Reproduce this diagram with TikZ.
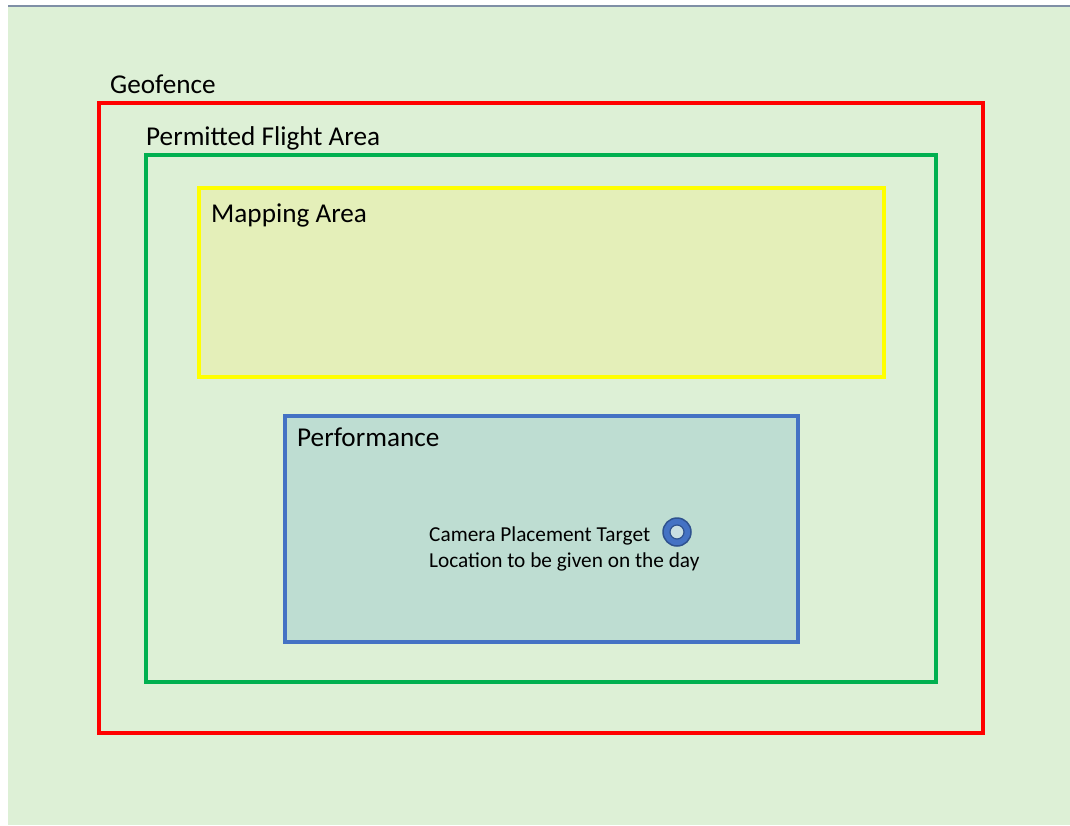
\documentclass[tikz,border=0pt]{standalone}
\usepackage{fontspec}
\setmainfont{Carlito}
\usepackage{tikz}
\usetikzlibrary{positioning}
\definecolor{bggreen}{HTML}{DDF0D6}
\definecolor{fencered}{HTML}{FF0000}
\definecolor{flightgreen}{HTML}{00B050}
\definecolor{mapyellow}{HTML}{FFFF00}
\definecolor{mapfill}{HTML}{E4EFB9}
\definecolor{perfblue}{HTML}{4472C4}
\definecolor{perffill}{HTML}{BEDDD2}
\definecolor{ringdark}{HTML}{2F528F}
\definecolor{ringhole}{HTML}{C9DFE2}
\definecolor{topline}{HTML}{7F8FA6}

\tikzset{
    zonelabel/.style={anchor=base west, inner sep=0pt, font=\fontsize{27.2}{31}\selectfont},
    notelabel/.style={anchor=base west, inner sep=0pt, font=\fontsize{21.3}{26}\selectfont}
}

\begin{document}
\begin{tikzpicture}[x=1pt, y=-1pt]
    \useasboundingbox (0,0) rectangle (1070,825);
    \fill[bggreen] (8,6) rectangle (1070,825);
    \draw[topline, line width=1.2pt] (8,6) -- (1070,6);

    \draw[fencered, line width=4.5pt] (99,103) rectangle (983,733);
    \draw[flightgreen, line width=4pt] (146,155) rectangle (936,682);
    \draw[mapyellow, fill=mapfill, line width=4pt] (199,188) rectangle (884,377);
    \draw[perfblue, fill=perffill, line width=3.5pt] (285,416) rectangle (798,642);

    \node[zonelabel] (geofence) at (110,93) {Geofence};
    \node[zonelabel] (flight) at (146,145) {Permitted Flight Area};
    \node[zonelabel] (mapping) at (211,222) {Mapping Area};
    \node[zonelabel] (perf) at (297,446) {Performance};

    \node[notelabel] (camtarget) at (429,541) {Camera Placement Target};
    \node[notelabel] (camday) at (429,567) {Location to be given on the day};

    \fill[perfblue, draw=ringdark, line width=1.5pt] (677,532) circle (14);
    \fill[ringhole, draw=ringdark, line width=1.2pt] (677,532) circle (7);
\end{tikzpicture}
\end{document}
